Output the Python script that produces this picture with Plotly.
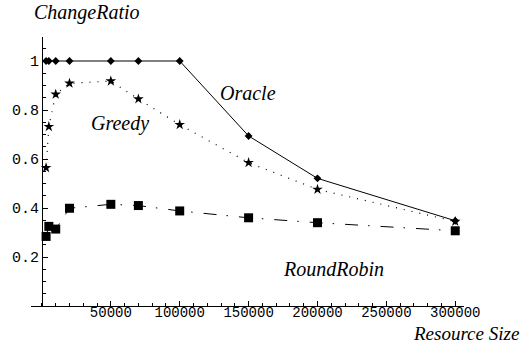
import plotly.graph_objects as go

resource_size = [3000, 5000, 10000, 20000, 50000, 70000, 100000, 150000, 200000, 300000]
oracle = [1.0, 1.0, 1.0, 1.0, 1.0, 1.0, 1.0, 0.694, 0.521, 0.348]
greedy = [0.564, 0.732, 0.864, 0.909, 0.918, 0.845, 0.74, 0.585, 0.476, 0.345]
round_robin = [0.284, 0.325, 0.314, 0.399, 0.415, 0.41, 0.388, 0.36, 0.34, 0.307]

x_tickvals = [50000, 100000, 150000, 200000, 250000, 300000]
x_ticktext = ["50000", "100000", "150000", "200000", "250000", "300000"]
y_tickvals = [0.2, 0.4, 0.6, 0.8, 1.0]
y_ticktext = ["0.2", "0.4", "0.6", "0.8", "1"]

series_labels = ["Oracle", "Greedy", "RoundRobin"]

W, H = 521, 343
ml, mr, mt, mb = 29, 57, 37, 37
pw, ph = W - ml - mr, H - mt - mb
xr = [-7950, 306360]
yr = [0, 1.098]

fig = go.Figure()
fig.add_trace(go.Scatter(x=resource_size, y=oracle, mode="lines+markers", name="Oracle",
                         line=dict(color="black", width=1),
                         marker=dict(symbol="diamond", size=6, color="black")))
fig.add_trace(go.Scatter(x=resource_size, y=greedy, mode="lines+markers", name="Greedy",
                         line=dict(color="black", width=1.2, dash="1px,7px"),
                         marker=dict(symbol="star", size=8, color="black")))
fig.add_trace(go.Scatter(x=resource_size, y=round_robin, mode="lines+markers", name="RoundRobin",
                         line=dict(color="black", width=1, dash="13px,10px,1.5px,11px"),
                         marker=dict(symbol="square", size=9, color="black")))

serif = "Liberation Serif"
mono = "Liberation Mono"

label_pos = [(149600, 0.869), (57000, 0.745), (211500, 0.152)]
for txt, (lx, ly) in zip(series_labels, label_pos):
    fig.add_annotation(x=lx, y=ly, xref="x", yref="y", text="<i>%s</i>" % txt, showarrow=False,
                       font=dict(family=serif, size=20, color="black"))

fig.add_annotation(x=(30 - ml) / pw, y=1 + (mt - 13) / ph, xref="paper", yref="paper",
                   text="<i>ChangeRatio</i>", showarrow=False, xanchor="left", yanchor="middle",
                   font=dict(family=serif, size=20, color="black"))
fig.add_annotation(x=(521 - ml) / pw, y=-(334 - (H - mb)) / ph,
                   xref="paper", yref="paper", text="<i>Resource Size</i>",
                   showarrow=False, xanchor="right", yanchor="middle",
                   font=dict(family=serif, size=19, color="black"))

ypos = (40 - ml) / pw
fig.update_layout(
    width=W, height=H, margin=dict(l=ml, r=mr, t=mt, b=mb),
    paper_bgcolor="white", plot_bgcolor="white", showlegend=False,
    xaxis=dict(range=xr, showgrid=False, zeroline=False, showline=True, linecolor="black", linewidth=1,
               tickmode="array", tickvals=x_tickvals, ticktext=x_ticktext, ticks="inside",
               ticklen=5, tickcolor="black", tickwidth=1, ticklabelstandoff=-7,
               tickfont=dict(family=mono, size=14, color="black"),
               minor=dict(tickmode="linear", tick0=0, dtick=10000, ticks="inside", ticklen=3,
                          tickcolor="black", tickwidth=1, showgrid=False)),
    yaxis=dict(range=yr, showgrid=False, zeroline=False, showline=True, linecolor="black", linewidth=1,
               anchor="free", position=ypos,
               tickmode="array", tickvals=y_tickvals, ticktext=y_ticktext, ticks="inside",
               ticklen=5, tickcolor="black", tickwidth=1,
               tickfont=dict(family=mono, size=15, color="black"),
               minor=dict(tickmode="linear", tick0=0, dtick=0.05, ticks="inside", ticklen=3,
                          tickcolor="black", tickwidth=1, showgrid=False)),
)

fig.write_html("out.html")
